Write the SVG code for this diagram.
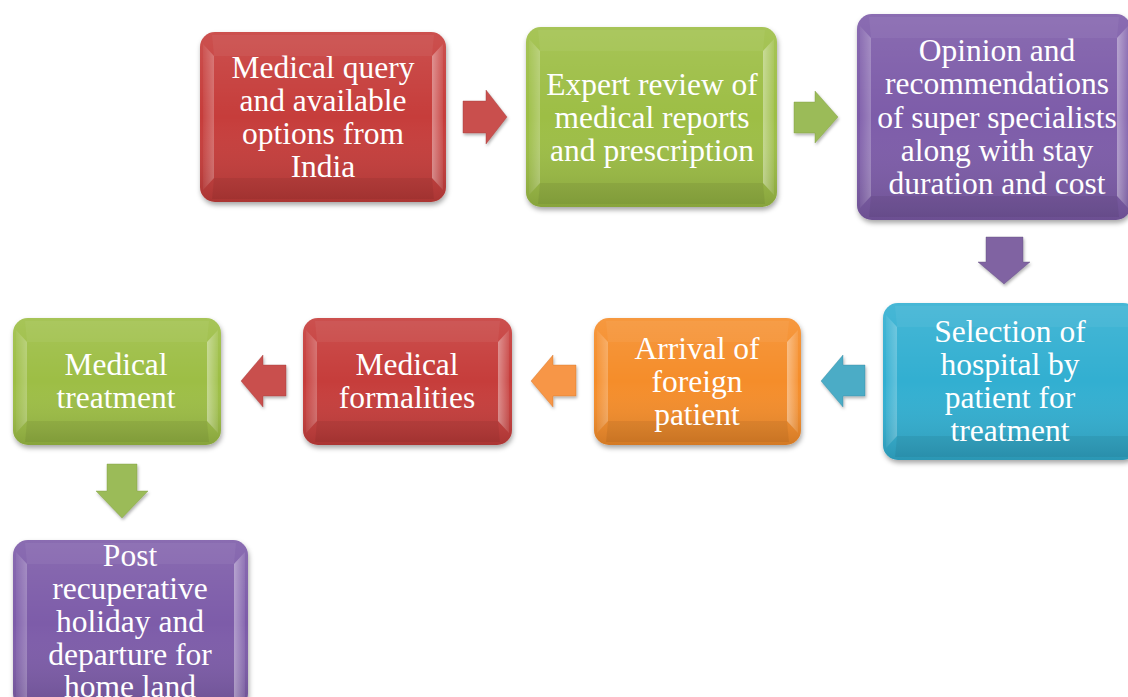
<svg xmlns="http://www.w3.org/2000/svg" width="1128" height="697" viewBox="0 0 1128 697">
  <defs>
    <filter id="shadow" x="-10%" y="-10%" width="130%" height="130%">
      <feDropShadow dx="1" dy="3" stdDeviation="2.5" flood-color="#000" flood-opacity="0.35"/>
    </filter>
    <filter id="ashadow" x="-20%" y="-20%" width="150%" height="150%">
      <feDropShadow dx="1" dy="2" stdDeviation="1.5" flood-color="#000" flood-opacity="0.3"/>
    </filter>
    <!-- gloss: lighter at the top, darker towards the bottom -->
    <linearGradient id="gloss" x1="0" y1="0" x2="0" y2="1">
      <stop offset="0" stop-color="#fff" stop-opacity="0.1"/>
      <stop offset="0.5" stop-color="#fff" stop-opacity="0"/>
      <stop offset="1" stop-color="#000" stop-opacity="0.14"/>
    </linearGradient>
    <linearGradient id="sideL" x1="0" y1="0" x2="1" y2="0">
      <stop offset="0" stop-color="#fff" stop-opacity="0.05"/>
      <stop offset="1" stop-color="#fff" stop-opacity="0.25"/>
    </linearGradient>
    <linearGradient id="sideR" x1="0" y1="0" x2="1" y2="0">
      <stop offset="0" stop-color="#fff" stop-opacity="0.4"/>
      <stop offset="1" stop-color="#fff" stop-opacity="0.08"/>
    </linearGradient>
  </defs>
  <style>
    .lbl { font-family: "Liberation Serif", "Times New Roman", serif; font-size: 31.5px; fill: #fff; text-anchor: middle; }
    .box { filter: url(#shadow); }
    .gl { fill: url(#gloss); }
    .bl { fill: url(#sideL); }
    .br { fill: url(#sideR); }
    .bt { fill: #fff; fill-opacity: 0.05; }
    .bb { fill: #000; fill-opacity: 0.06; }
    .red { fill: #C63E3B; }
    .green { fill: #9DBE45; }
    .purple { fill: #7D5BA9; }
    .aqua { fill: #33AFD1; }
    .orange { fill: #F58D2C; }
    .arr { filter: url(#ashadow); stroke-width: 0.8; stroke-opacity: 0.5; }
    .ared { fill: #C9504E; stroke: #a33b39; }
    .agreen { fill: #9BBB59; stroke: #7c9a3f; }
    .apurple { fill: #8064A2; stroke: #5f4a7d; }
    .aaqua { fill: #4BACC6; stroke: #3a8aa0; }
    .aorange { fill: #F79646; stroke: #d1762c; }
  </style>

  <!-- Node 1 -->
  <g id="n1">
    <rect class="box red" x="200" y="32" width="246" height="170" rx="15"/>
    <rect class="gl" x="200" y="32" width="246" height="170" rx="15"/>
    <polygon class="bl" points="203,44 214,56 214,178 203,190"/>
    <polygon class="br" points="443,44 432,56 432,178 443,190"/>
    <polygon class="bt" points="212,35 434,35 432,56 214,56"/>
    <polygon class="bb" points="214,178 432,178 434,199 212,199"/>
    <text class="lbl" x="323" y="78">Medical query</text>
    <text class="lbl" x="323" y="111">and available</text>
    <text class="lbl" x="323" y="144">options from</text>
    <text class="lbl" x="323" y="177">India</text>
  </g>

  <!-- Node 2 -->
  <g id="n2">
    <rect class="box green" x="526" y="27" width="251" height="180" rx="15"/>
    <rect class="gl" x="526" y="27" width="251" height="180" rx="15"/>
    <polygon class="bl" points="529,39 540,51 540,183 529,195"/>
    <polygon class="br" points="774,39 763,51 763,183 774,195"/>
    <polygon class="bt" points="538,30 765,30 763,51 540,51"/>
    <polygon class="bb" points="540,183 763,183 765,204 538,204"/>
    <text class="lbl" x="652" y="95">Expert review of</text>
    <text class="lbl" x="652" y="128">medical reports</text>
    <text class="lbl" x="652" y="161">and prescription</text>
  </g>

  <!-- Node 3 -->
  <g id="n3">
    <rect class="box purple" x="857" y="14" width="274" height="206" rx="15"/>
    <rect class="gl" x="857" y="14" width="274" height="206" rx="15"/>
    <polygon class="bl" points="860,26 871,38 871,196 860,208"/>
    <polygon class="br" points="1128,26 1117,38 1117,196 1128,208"/>
    <polygon class="bt" points="869,17 1119,17 1117,38 871,38"/>
    <polygon class="bb" points="871,196 1117,196 1119,217 869,217"/>
    <text class="lbl" x="997" y="61">Opinion and</text>
    <text class="lbl" x="997" y="94">recommendations</text>
    <text class="lbl" x="997" y="128">of super specialists</text>
    <text class="lbl" x="997" y="161">along with stay</text>
    <text class="lbl" x="997" y="194">duration and cost</text>
  </g>

  <!-- Node 4 -->
  <g id="n4">
    <rect class="box aqua" x="883" y="303" width="255" height="157" rx="15"/>
    <rect class="gl" x="883" y="303" width="255" height="157" rx="15"/>
    <polygon class="bl" points="886,315 897,327 897,436 886,448"/>
    <polygon class="bt" points="895,306 1128,306 1128,327 897,327"/>
    <polygon class="bb" points="897,436 1128,436 1128,457 895,457"/>
    <text class="lbl" x="1010" y="342">Selection of</text>
    <text class="lbl" x="1010" y="375">hospital by</text>
    <text class="lbl" x="1010" y="408">patient for</text>
    <text class="lbl" x="1010" y="441">treatment</text>
  </g>

  <!-- Node 5 -->
  <g id="n5">
    <rect class="box orange" x="594" y="318" width="207" height="127" rx="15"/>
    <rect class="gl" x="594" y="318" width="207" height="127" rx="15"/>
    <polygon class="bl" points="597,330 608,342 608,421 597,433"/>
    <polygon class="br" points="798,330 787,342 787,421 798,433"/>
    <polygon class="bt" points="606,321 789,321 787,342 608,342"/>
    <polygon class="bb" points="608,421 787,421 789,442 606,442"/>
    <text class="lbl" x="697" y="359">Arrival of</text>
    <text class="lbl" x="697" y="392">foreign</text>
    <text class="lbl" x="697" y="425">patient</text>
  </g>

  <!-- Node 6 -->
  <g id="n6">
    <rect class="box red" x="303" y="318" width="209" height="127" rx="15"/>
    <rect class="gl" x="303" y="318" width="209" height="127" rx="15"/>
    <polygon class="bl" points="306,330 317,342 317,421 306,433"/>
    <polygon class="br" points="509,330 498,342 498,421 509,433"/>
    <polygon class="bt" points="315,321 500,321 498,342 317,342"/>
    <polygon class="bb" points="317,421 498,421 500,442 315,442"/>
    <text class="lbl" x="407" y="375">Medical</text>
    <text class="lbl" x="407" y="408">formalities</text>
  </g>

  <!-- Node 7 -->
  <g id="n7">
    <rect class="box green" x="13" y="318" width="208" height="127" rx="15"/>
    <rect class="gl" x="13" y="318" width="208" height="127" rx="15"/>
    <polygon class="bl" points="16,330 27,342 27,421 16,433"/>
    <polygon class="br" points="218,330 207,342 207,421 218,433"/>
    <polygon class="bt" points="25,321 209,321 207,342 27,342"/>
    <polygon class="bb" points="27,421 207,421 209,442 25,442"/>
    <text class="lbl" x="116" y="375">Medical</text>
    <text class="lbl" x="116" y="408">treatment</text>
  </g>

  <!-- Node 8 (runs off the bottom edge) -->
  <g id="n8">
    <rect class="box purple" x="13" y="540" width="235" height="168" rx="15"/>
    <rect class="gl" x="13" y="540" width="235" height="168" rx="15"/>
    <polygon class="bl" points="16,552 27,564 27,697 16,697"/>
    <polygon class="br" points="245,552 234,564 234,697 245,697"/>
    <polygon class="bt" points="25,543 236,543 234,564 27,564"/>
    <text class="lbl" x="130" y="566">Post</text>
    <text class="lbl" x="130" y="599">recuperative</text>
    <text class="lbl" x="130" y="632">holiday and</text>
    <text class="lbl" x="130" y="665">departure for</text>
    <text class="lbl" x="130" y="697">home land</text>
  </g>

  <!-- Connectors: block arrows -->
  <g id="connectors">
    <polygon class="arr ared" points="463,101 486,101 486,90 507,117 486,144 486,133 463,133"/>
    <polygon class="arr agreen" points="794,102 815,102 815,91 838,117 815,143 815,133 794,133"/>
    <polygon class="arr apurple" points="986,237 1023,237 1023,262 1030,262 1004,284 978,262 986,262"/>
    <polygon class="arr aaqua" points="865,365 843,365 843,355 821,381 843,407 843,396 865,396"/>
    <polygon class="arr aorange" points="576,365 553,365 553,355 531,381 553,407 553,396 576,396"/>
    <polygon class="arr ared" points="286,365 263,365 263,355 241,381 263,407 263,396 286,396"/>
    <polygon class="arr agreen" points="107,464 137,464 137,491 148,491 122,518 96,491 107,491"/>
  </g>
</svg>
